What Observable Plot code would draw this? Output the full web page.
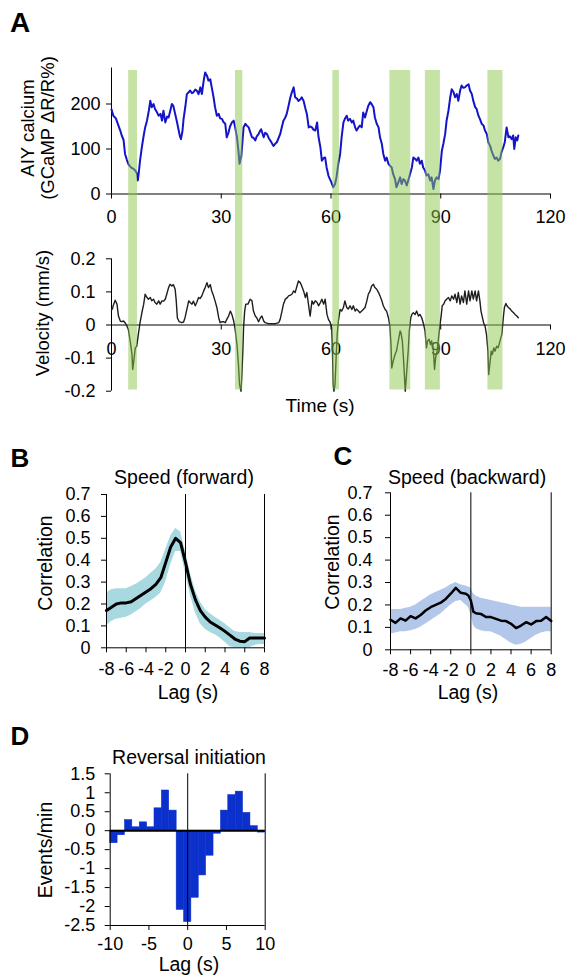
<!DOCTYPE html>
<html><head><meta charset="utf-8">
<script src="https://cdn.jsdelivr.net/npm/d3@7"></script>
<script src="https://cdn.jsdelivr.net/npm/@observablehq/plot@0.6"></script>
<style>
html,body{margin:0;padding:0;background:#fff;}
#root{position:relative;width:574px;height:980px;overflow:hidden;font-family:"Liberation Sans",Arial,sans-serif;color:#000;}
.lbl{position:absolute;white-space:nowrap;line-height:1;transform:translate(-50%,-50%);}
.rot{transform:translate(-50%,-50%) rotate(-90deg);}
</style></head><body><div id="root"></div>
<script>
// ---------- Panel A data ----------
const timeTicks = [0, 30, 60, 90, 120];
const caTicks = [0, 100, 200];
const velTicks = [-0.2, -0.1, 0, 0.1, 0.2];
// reversal periods (s): [start, end]
const reversals = [[4.7, 7.1], [33.9, 35.9], [60.5, 62.3], [76.1, 81.8], [85.8, 89.9], [102.9, 107.0]];
// AIY calcium trace [time s, ΔR/R %]
const calcium = [[0,188],[0.5,174],[1.2,168],[1.9,152],[2.4,141],[2.8,130],[3.3,120],[3.7,89],[4.2,76],[4.6,67],[5.0,62],[5.5,58],[6.0,56],[6.5,52],[7.0,45],[7.2,30],[7.5,50],[7.8,74],[8.3,104],[8.8,130],[9.2,148],[9.7,163],[10.2,185],[10.6,207],[11.0,193],[11.5,200],[11.9,189],[12.4,182],[12.9,174],[13.4,178],[13.8,163],[14.2,185],[14.7,159],[15.2,172],[15.6,170],[16.1,186],[16.5,200],[16.9,196],[17.4,178],[17.9,160],[18.3,144],[18.7,128],[19.0,122],[19.4,140],[19.7,167],[20.2,195],[20.6,222],[21.1,226],[21.5,230],[22.0,224],[22.4,226],[22.9,232],[23.3,230],[23.8,222],[24.3,237],[24.7,222],[25.2,252],[25.6,270],[26.1,263],[26.5,252],[27.0,255],[27.4,237],[27.9,215],[28.3,193],[28.8,174],[29.3,178],[29.7,168],[30.2,167],[30.6,160],[31.1,156],[31.5,126],[32.0,137],[32.4,150],[32.9,159],[33.4,163],[33.8,148],[34.3,126],[34.7,96],[35.0,67],[35.5,85],[36.1,148],[36.6,156],[37.0,152],[37.5,148],[37.9,138],[38.4,126],[38.8,125],[39.3,119],[39.7,128],[40.2,133],[40.6,140],[40.9,144],[41.6,126],[42.0,136],[42.5,133],[43.0,124],[43.4,119],[43.9,112],[44.3,107],[44.8,112],[45.2,115],[45.7,125],[46.1,133],[46.6,150],[47.0,163],[47.5,170],[47.9,178],[48.4,196],[48.9,215],[49.3,226],[49.8,237],[50.2,215],[50.7,212],[51.1,207],[51.6,210],[52.0,215],[52.5,207],[53.0,190],[53.4,178],[53.9,148],[54.3,150],[54.8,148],[55.2,143],[55.7,141],[56.2,159],[56.6,126],[57.1,104],[57.5,74],[58.0,80],[58.4,81],[58.8,59],[59.3,41],[59.7,33],[60.0,28],[60.6,15],[61.1,22],[61.5,37],[62.0,67],[62.5,89],[62.9,126],[63.4,159],[63.8,167],[64.3,174],[64.7,163],[65.2,167],[65.7,159],[66.1,163],[66.6,148],[67.0,141],[67.5,148],[67.9,152],[68.4,148],[68.8,181],[69.3,170],[69.8,185],[70.2,196],[70.7,204],[71.1,200],[71.6,193],[72.0,170],[72.5,156],[73.0,148],[73.4,126],[73.9,111],[74.3,89],[74.8,74],[75.2,81],[75.7,67],[76.1,63],[76.6,59],[77.0,44],[77.5,33],[77.9,15],[78.4,26],[78.9,37],[79.3,22],[79.8,33],[80.2,30],[80.7,19],[81.1,30],[81.6,44],[82.1,59],[82.5,81],[83.0,78],[83.4,74],[83.9,81],[84.3,67],[84.8,74],[85.2,59],[85.7,52],[86.1,41],[86.6,44],[87.1,30],[87.5,37],[88.0,11],[88.4,30],[88.9,37],[89.4,33],[89.8,52],[90.3,96],[90.7,111],[91.2,133],[91.6,163],[92.1,185],[92.6,215],[93.0,233],[93.5,226],[93.9,215],[94.4,222],[94.8,207],[95.3,230],[95.7,241],[96.2,236],[96.6,237],[97.1,241],[97.6,244],[98.0,230],[98.5,222],[98.9,207],[99.4,193],[99.8,189],[100.3,174],[100.7,167],[101.2,156],[101.7,152],[102.1,141],[102.6,133],[103.0,115],[103.5,107],[103.9,96],[104.4,85],[104.8,78],[105.3,81],[105.7,74],[106.2,78],[106.6,93],[107.1,104],[107.5,115],[108.0,148],[108.5,126],[108.9,128],[109.4,122],[109.8,130],[110.1,100],[110.5,126],[110.9,119],[111.2,130]];
// velocity trace [time s, mm/s]
const velocity = [[0,0.045],[0.3,0.05],[0.5,0.06],[1.0,0.075],[1.5,0.063],[1.9,0.027],[2.4,0.012],[2.8,0.01],[3.3,0.012],[3.7,0.007],[4.2,-0.003],[4.6,-0.013],[5.1,-0.048],[5.6,-0.089],[5.8,-0.134],[6.2,-0.099],[6.5,-0.069],[6.9,-0.064],[7.4,-0.023],[7.8,0.007],[8.3,0.037],[8.8,0.063],[9.2,0.093],[9.7,0.083],[10.1,0.078],[10.6,0.083],[11.0,0.073],[11.5,0.078],[11.9,0.068],[12.4,0.063],[12.9,0.073],[13.3,0.063],[13.8,0.073],[14.2,0.072],[14.7,0.078],[15.1,0.093],[15.6,0.113],[16.0,0.123],[16.5,0.118],[16.9,0.122],[17.4,0.108],[17.7,0.073],[18.0,0.022],[18.5,0.01],[19.2,0.007],[19.7,0.009],[20.1,0.022],[20.6,0.047],[21.1,0.073],[21.5,0.068],[22.0,0.063],[22.4,0.072],[22.9,0.058],[23.3,0.068],[23.8,0.083],[24.2,0.08],[24.7,0.088],[25.2,0.103],[25.6,0.113],[26.1,0.128],[26.5,0.113],[27.0,0.122],[27.4,0.103],[27.9,0.088],[28.3,0.073],[28.8,0.053],[29.3,0.022],[29.7,0.007],[30.2,0.01],[30.6,0.01],[31.1,0.007],[31.5,0.017],[32.0,0.027],[32.5,0.042],[32.9,0.032],[33.4,0.012],[33.8,-0.013],[34.3,-0.059],[34.7,-0.119],[35.0,-0.18],[35.4,-0.2],[35.6,-0.16],[35.9,-0.079],[36.1,-0.008],[36.4,0.042],[36.7,0.063],[37.3,0.063],[37.9,0.078],[38.4,0.073],[38.8,0.042],[39.3,0.027],[39.7,0.022],[40.2,0.01],[40.7,0.022],[41.1,0.027],[41.6,0.012],[42.0,0.007],[42.9,0.004],[43.8,0.004],[44.8,0.004],[45.7,0.007],[46.1,0.017],[46.6,0.042],[47.0,0.063],[47.5,0.078],[48.0,0.082],[48.4,0.088],[48.9,0.09],[49.3,0.093],[49.8,0.103],[50.2,0.098],[50.7,0.118],[51.1,0.133],[51.6,0.128],[52.0,0.118],[52.5,0.103],[53.0,0.083],[53.4,0.098],[53.9,0.058],[54.3,0.027],[54.8,0.073],[55.2,0.063],[55.7,0.073],[56.2,0.068],[56.6,0.058],[57.1,0.068],[57.5,0.078],[58.0,0.063],[58.4,0.078],[58.9,0.032],[59.3,0.017],[59.8,0.007],[60.2,-0.008],[60.4,-0.079],[60.6,-0.18],[60.8,-0.2],[61.1,-0.18],[61.4,-0.099],[61.7,-0.028],[62.0,0.012],[62.5,0.047],[62.9,0.042],[63.4,0.053],[63.8,0.073],[64.3,0.053],[64.7,0.048],[65.2,0.058],[65.7,0.047],[66.1,0.058],[66.6,0.042],[67.0,0.048],[67.5,0.042],[67.9,0.037],[68.4,0.042],[68.8,0.047],[69.3,0.053],[69.8,0.073],[70.2,0.093],[70.7,0.103],[71.1,0.118],[71.6,0.123],[72.0,0.113],[72.5,0.108],[73.0,0.098],[73.4,0.088],[73.9,0.073],[74.3,0.058],[74.8,0.047],[75.2,0.042],[75.7,0.022],[76.1,-0.003],[76.4,-0.059],[76.6,-0.13],[77.0,-0.109],[77.5,-0.089],[77.9,-0.079],[78.4,-0.048],[78.9,-0.018],[79.1,-0.023],[79.5,-0.048],[79.8,-0.099],[80.1,-0.16],[80.3,-0.2],[80.7,-0.14],[81.1,-0.079],[81.4,-0.018],[81.8,0.022],[82.1,0.032],[82.5,0.037],[83.0,0.032],[83.4,0.042],[83.9,0.027],[84.3,0.032],[84.8,0.022],[85.2,0.007],[85.7,-0.018],[86.1,-0.069],[86.4,-0.048],[86.8,-0.043],[87.2,-0.059],[87.5,-0.048],[88.0,-0.079],[88.3,-0.134],[88.6,-0.099],[89.0,-0.079],[89.4,-0.038],[89.7,-0.008],[90.1,0.027],[90.4,0.058],[90.8,0.063],[91.2,0.073],[91.6,0.078],[92.1,0.083],[92.6,0.073],[93.0,0.088],[93.5,0.078],[93.9,0.093],[94.4,0.068],[94.8,0.098],[95.3,0.063],[95.7,0.088],[96.2,0.068],[96.6,0.103],[97.1,0.063],[97.6,0.103],[98.0,0.073],[98.5,0.103],[98.9,0.078],[99.4,0.103],[99.8,0.073],[100.3,0.103],[100.7,0.073],[101.0,0.042],[101.4,0.022],[101.7,0.007],[102.1,-0.003],[102.5,-0.028],[102.9,-0.079],[103.1,-0.15],[103.4,-0.12],[103.8,-0.079],[104.1,-0.089],[104.5,-0.069],[104.8,-0.079],[105.3,-0.064],[105.7,-0.069],[106.2,-0.048],[106.7,-0.028],[107.1,0.022],[107.4,0.053],[107.8,0.065],[108.1,0.058],[108.5,0.053],[109.0,0.048],[109.4,0.042],[109.9,0.037],[110.3,0.032],[110.8,0.027],[111.2,0.022]];

// ---------- Panel B / C data ----------
const lagTicks = [-8, -6, -4, -2, 0, 2, 4, 6, 8];
const corrTicks = [0, 0.1, 0.2, 0.3, 0.4, 0.5, 0.6, 0.7];
const bLag  = [-8,-7.5,-7,-6.5,-6,-5.5,-5,-4.5,-4,-3.5,-3,-2.5,-2,-1.5,-1,-0.5,0,0.5,1,1.5,2,2.5,3,3.5,4,4.5,5,5.5,6,6.5,7,7.5,8];
const bMean = [0.17,0.185,0.2,0.205,0.205,0.21,0.225,0.24,0.255,0.27,0.29,0.32,0.39,0.46,0.5,0.48,0.39,0.29,0.22,0.17,0.14,0.118,0.104,0.09,0.075,0.058,0.04,0.03,0.028,0.045,0.045,0.045,0.045];
const bHigh = [0.25,0.265,0.27,0.27,0.27,0.28,0.29,0.305,0.32,0.34,0.36,0.39,0.45,0.51,0.545,0.53,0.44,0.34,0.26,0.21,0.175,0.155,0.14,0.125,0.11,0.09,0.075,0.07,0.07,0.07,0.065,0.065,0.065];
const bLow  = [0.1,0.12,0.13,0.135,0.14,0.15,0.165,0.18,0.2,0.215,0.23,0.25,0.3,0.38,0.44,0.44,0.34,0.24,0.16,0.11,0.085,0.07,0.06,0.045,0.025,0.005,0,0,0,0,0.01,0.015,0.015];
const cLag  = [-8,-7.5,-7,-6.5,-6,-5.5,-5,-4.5,-4,-3.5,-3,-2.5,-2,-1.5,-1,-0.5,-0.25,0,0.25,0.5,1,1.5,2,2.5,3,3.5,4,4.5,5,5.5,6,6.5,7,7.5,8];
const cMean = [0.134,0.12,0.14,0.13,0.15,0.14,0.155,0.175,0.19,0.2,0.21,0.227,0.25,0.276,0.254,0.25,0.242,0.22,0.17,0.163,0.16,0.146,0.146,0.138,0.13,0.128,0.116,0.097,0.108,0.123,0.113,0.128,0.13,0.146,0.128];
const cHigh = [0.18,0.18,0.18,0.185,0.19,0.2,0.215,0.23,0.245,0.255,0.265,0.275,0.29,0.3,0.29,0.285,0.28,0.275,0.25,0.24,0.23,0.225,0.22,0.215,0.21,0.205,0.2,0.195,0.19,0.19,0.19,0.19,0.19,0.19,0.19];
const cLow  = [0.07,0.075,0.08,0.08,0.085,0.09,0.1,0.115,0.13,0.145,0.16,0.18,0.2,0.215,0.22,0.2,0.19,0.16,0.11,0.095,0.085,0.08,0.08,0.07,0.06,0.045,0.03,0.02,0.025,0.035,0.05,0.065,0.075,0.08,0.08];

// ---------- Panel D data ----------
const dLagTicks = [-10, -5, 0, 5, 10];
const dRateTicks = [1.5, 1, 0.5, 0, -0.5, -1, -1.5, -2, -2.5];
const dBinWidth = 20 / 21;
const dLag  = [-9.52,-8.57,-7.62,-6.67,-5.71,-4.76,-3.81,-2.86,-1.90,-0.95,0,0.95,1.90,2.86,3.81,4.76,5.71,6.67,7.62,8.57,9.52];
const dRate = [-0.33,-0.12,0.28,0.09,0.22,0.09,0.59,1.06,0.53,-2.09,-2.41,-1.77,-1.18,-0.66,-0.08,0.53,0.94,1.03,0.47,0.12,-0.05];

// ---------- build ----------
const root = document.getElementById("root");
const fmt = d => String(d);
const FONT = "Liberation Sans, Arial, sans-serif";
const baseStyle = {background: "transparent", fontFamily: FONT, overflow: "visible", maxWidth: "none"};

function place(svg, left, top) {
  svg.style.position = "absolute";
  svg.style.left = left + "px";
  svg.style.top = top + "px";
  root.appendChild(svg);
}
function label(text, x, y, size, opts = {}) {
  const d = document.createElement("div");
  d.className = "lbl" + (opts.rot ? " rot" : "");
  d.textContent = text;
  d.style.left = x + "px";
  d.style.top = y + "px";
  d.style.fontSize = size + "px";
  if (opts.bold) d.style.fontWeight = "bold";
  root.appendChild(d);
}

const caRows = calcium.map(([t, v]) => ({t, v}));
const velRows = velocity.map(([t, v]) => ({t, v}));
const revRows = reversals.map(([s, e]) => ({s, e}));

// A top: calcium
place(Plot.plot({
  width: 574, height: 180,
  marginLeft: 111, marginRight: 24, marginTop: 17.5, marginBottom: 36.5,
  style: baseStyle,
  x: {domain: [0, 120]},
  y: {domain: [0, 280]},
  marks: [
    Plot.ruleX([0]),
    Plot.ruleY([0]),
    Plot.axisX({ticks: timeTicks, tickSize: 5, tickPadding: 11, fontSize: 18, label: null, tickFormat: fmt}),
    Plot.axisY({ticks: caTicks, tickSize: 5, tickPadding: 6, fontSize: 18, label: null, tickFormat: fmt}),
    Plot.line(caRows, {x: "t", y: "v", stroke: "#1414c8", strokeWidth: 2})
  ]
}), 0, 50);

// A bottom: velocity
place(Plot.plot({
  width: 574, height: 175,
  marginLeft: 111, marginRight: 24, marginTop: 28.3, marginBottom: 14.3,
  style: baseStyle,
  x: {domain: [0, 120], axis: null},
  y: {domain: [-0.2, 0.2]},
  marks: [
    Plot.ruleX([0]),
    Plot.axisY({ticks: velTicks, tickSize: 5, tickPadding: 11, fontSize: 18, label: null, tickFormat: fmt}),
    Plot.ruleY([0]),
    Plot.ruleX(timeTicks, {x: d => d, y1: 0, y2: 0, insetBottom: -5}),
    Plot.text(timeTicks, {x: d => d, y: 0, dy: 24, text: fmt, fontSize: 18}),
    Plot.line(velRows, {x: "t", y: "v", stroke: "#1e1e1e", strokeWidth: 1.4})
  ]
}), 0, 230);

// A overlay: reversal shading
place(Plot.plot({
  width: 574, height: 360,
  marginLeft: 111, marginRight: 24, marginTop: 20, marginBottom: 20.5,
  style: baseStyle,
  x: {domain: [0, 120], axis: null},
  marks: [
    Plot.rect(revRows, {x1: "s", x2: "e", fill: "#8cc84b", fillOpacity: 0.5})
  ]
}), 0, 50);

// B
const bRows = bLag.map((lag, i) => ({lag, m: bMean[i], hi: bHigh[i], lo: bLow[i]}));
place(Plot.plot({
  width: 290, height: 210,
  marginLeft: 106, marginRight: 26, marginTop: 24, marginBottom: 32.7,
  style: baseStyle,
  x: {domain: [-8, 8]},
  y: {domain: [0, 0.7]},
  marks: [
    Plot.areaY(bRows, {x: "lag", y1: "lo", y2: "hi", fill: "#a8d9e1"}),
    Plot.ruleX([-8]), Plot.ruleX([8]), Plot.ruleX([0]), Plot.ruleY([0]),
    Plot.line(bRows, {x: "lag", y: "m", stroke: "#000", strokeWidth: 3}),
    Plot.axisX({ticks: lagTicks, tickSize: 5, tickPadding: 9, fontSize: 18, label: null, tickFormat: fmt}),
    Plot.axisY({ticks: corrTicks, tickSize: 5, tickPadding: 11, fontSize: 18, label: null, tickFormat: fmt})
  ]
}), 0, 470);

// C
const cRows = cLag.map((lag, i) => ({lag, m: cMean[i], hi: cHigh[i], lo: cLow[i]}));
place(Plot.plot({
  width: 284, height: 210,
  marginLeft: 100, marginRight: 23.3, marginTop: 22.3, marginBottom: 30.7,
  style: baseStyle,
  x: {domain: [-8, 8]},
  y: {domain: [0, 0.7]},
  marks: [
    Plot.areaY(cRows, {x: "lag", y1: "lo", y2: "hi", fill: "#b3c7ea"}),
    Plot.ruleX([-8]), Plot.ruleX([8]), Plot.ruleX([0]), Plot.ruleY([0]),
    Plot.line(cRows, {x: "lag", y: "m", stroke: "#000", strokeWidth: 2.5}),
    Plot.axisX({ticks: lagTicks, tickSize: 5, tickPadding: 8, fontSize: 18, label: null, tickFormat: fmt}),
    Plot.axisY({ticks: corrTicks, tickSize: 5, tickPadding: 13, fontSize: 18, label: null, tickFormat: fmt})
  ]
}), 290, 470);

// D
const dRows = dLag.map((lag, i) => ({lag, rate: dRate[i]}));
place(Plot.plot({
  width: 290, height: 210,
  marginLeft: 109.7, marginRight: 25.3, marginTop: 23.3, marginBottom: 35,
  style: baseStyle,
  x: {domain: [-10, 10]},
  y: {domain: [-2.5, 1.5]},
  marks: [
    Plot.rect(dRows, {x1: d => d.lag - dBinWidth / 2, x2: d => d.lag + dBinWidth / 2, y1: 0, y2: "rate", fill: "#0b30cc", stroke: "#0b30cc", strokeWidth: 0.5}),
    Plot.ruleX([-10]), Plot.ruleX([10]), Plot.ruleX([0]), Plot.ruleY([-2.5]),
    Plot.ruleY([0], {strokeWidth: 2}),
    Plot.axisX({ticks: dLagTicks, tickSize: 5, tickPadding: 7, fontSize: 18, label: null, tickFormat: fmt}),
    Plot.axisY({ticks: dRateTicks, tickSize: 5, tickPadding: 10, fontSize: 18, label: null, tickFormat: fmt})
  ]
}), 0, 750);

// ---------- text ----------
label("A", 20, 23, 28, {bold: true});
label("AIY calcium", 28, 128, 18.5, {rot: true});
label("(GCaMP ΔR/R%)", 48, 128, 18.5, {rot: true});
label("Velocity (mm/s)", 43, 313, 18.5, {rot: true});
label("Time (s)", 320, 405, 19);

label("B", 20, 458, 26, {bold: true});
label("Speed (forward)", 184, 478, 19.5);
label("Correlation", 46, 563, 19.5, {rot: true});
label("Lag (s)", 188, 693, 19.5);

label("C", 343, 456, 26, {bold: true});
label("Speed (backward)", 467, 478, 19.5);
label("Correlation", 333, 562, 19.5, {rot: true});
label("Lag (s)", 468, 693, 19.5);

label("D", 20, 736, 26, {bold: true});
label("Reversal initiation", 189, 758, 19.5);
label("Events/min", 46, 850, 19.5, {rot: true});
label("Lag (s)", 189, 965, 19.5);
</script></body></html>
